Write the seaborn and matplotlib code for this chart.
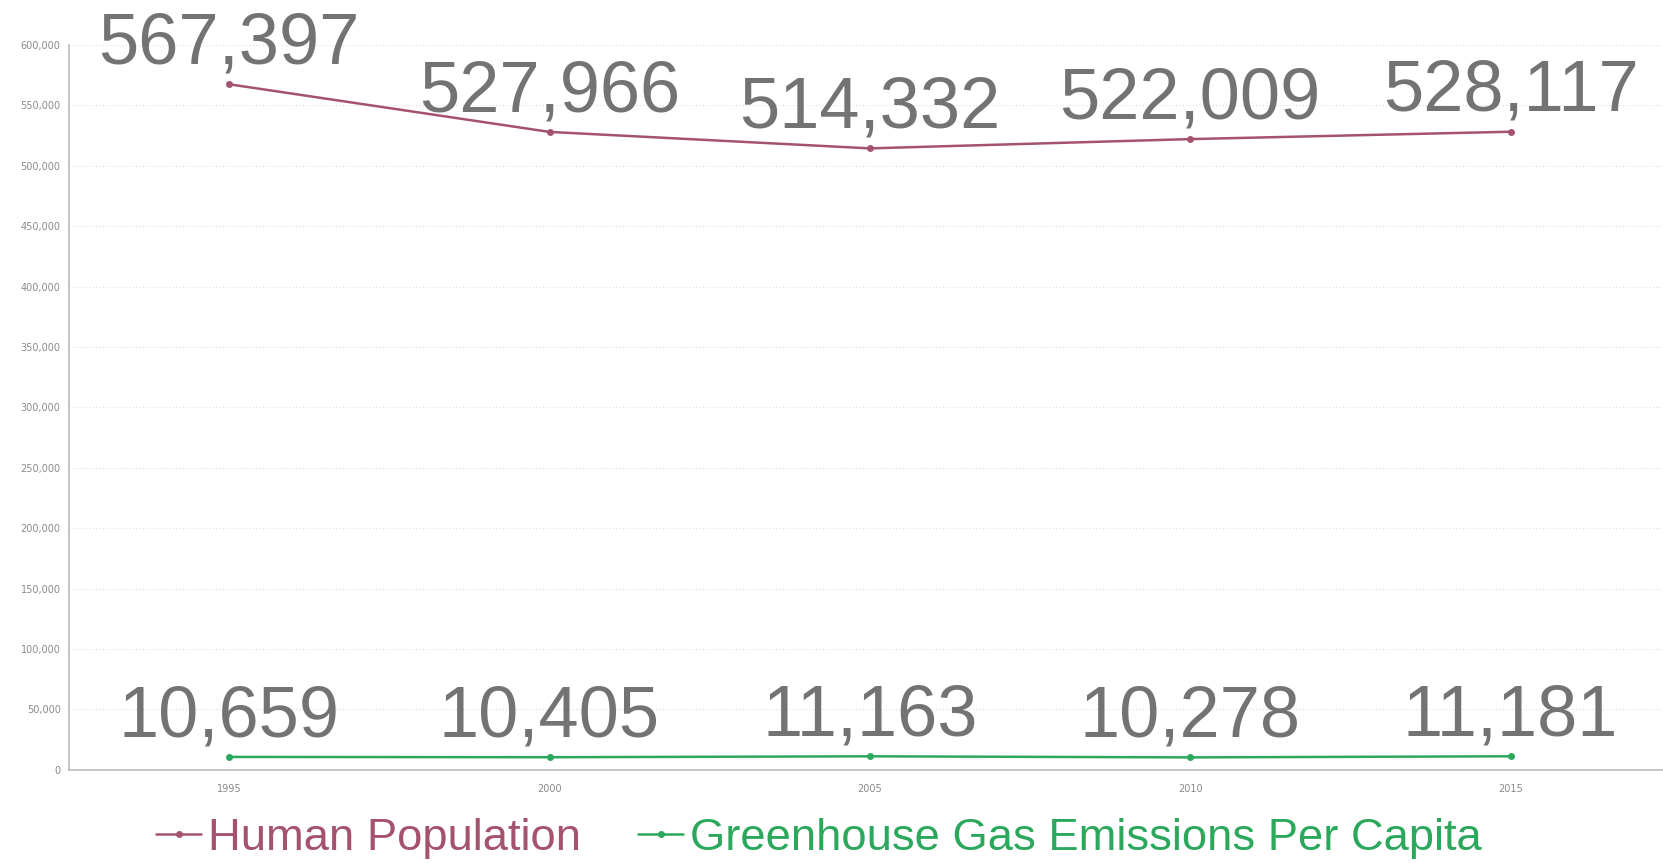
import numpy as np
import pandas as pd
import seaborn as sns
import matplotlib.pyplot as plt
from matplotlib.ticker import FuncFormatter, MultipleLocator

years = [1995, 2000, 2005, 2010, 2015]
population = [567397, 527966, 514332, 522009, 528117]
ghg_per_capita = [10659, 10405, 11163, 10278, 11181]

series_names = ["Human Population", "Greenhouse Gas Emissions Per Capita"]
series_colors = ["#A5526F", "#2BA85C"]

df = pd.DataFrame({
    "year": years * 2,
    "value": population + ghg_per_capita,
    "series": [series_names[0]] * len(years) + [series_names[1]] * len(years),
})

sns.set_style("white")
plt.rcParams["font.family"] = ["Liberation Sans", "DejaVu Sans"]

fig = plt.figure(figsize=(16.63, 8.63), dpi=100)
ax = fig.add_axes([0.0415, 0.108, 0.9585, 0.84])

sns.lineplot(data=df, x="year", y="value", hue="series", palette=series_colors,
             marker="o", markersize=5, markeredgewidth=0, linewidth=1.8,
             ax=ax, legend=False)

# big value labels above each point
for name, vals in zip(series_names, [population, ghg_per_capita]):
    for x, v in zip(years, vals):
        ax.annotate(f"{v:,}", (x, v), xytext=(0, 15), textcoords="offset points",
                    ha="center", va="baseline", fontsize=52, color="#737373")

ax.set_xlim(1992.5, 2017.38)
ax.set_ylim(0, 600000)
ax.yaxis.set_major_locator(MultipleLocator(50000))
ax.yaxis.set_major_formatter(FuncFormatter(lambda v, p: f"{int(v):,}"))
ax.set_xticks(years)
ax.set_xlabel("")
ax.set_ylabel("")
ax.tick_params(axis="y", labelsize=7, colors="#bbbbbb", length=4, width=0.8, pad=2)
ax.tick_params(axis="x", labelsize=7, length=0, pad=10)
for lab in ax.get_yticklabels() + ax.get_xticklabels():
    lab.set_color("#8a8a8a")
    lab.set_family("DejaVu Sans")

ax.grid(axis="y", linestyle=(0, (1, 2)), color="#dddddd", linewidth=0.8)
ax.set_axisbelow(True)
for side in ["top", "right"]:
    ax.spines[side].set_visible(False)
for side in ["left", "bottom"]:
    ax.spines[side].set_color("#bbbbbb")
    ax.spines[side].set_linewidth(1.2)

handles = [plt.Line2D([], [], color=c, marker="o", markersize=4, linewidth=1.8)
           for c in series_colors]
leg = fig.legend(handles, series_names, loc="lower center", bbox_to_anchor=(0.4925, -0.043),
                 ncol=2, frameon=False, fontsize=32.7, handlelength=1.0,
                 handletextpad=0.15, columnspacing=1.25)
for t, c in zip(leg.get_texts(), series_colors):
    t.set_color(c)

fig.savefig("out.png", dpi=100)
